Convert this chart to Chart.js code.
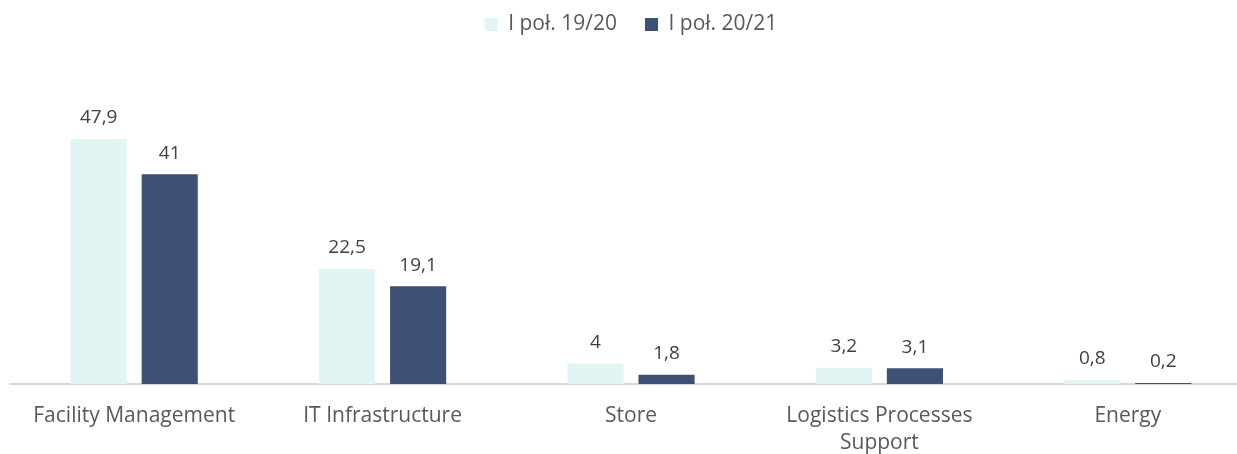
<!DOCTYPE html>
<html>
<head>
<meta charset="utf-8">
<script src="https://cdn.jsdelivr.net/npm/chart.js@4"></script>
<style>
  html, body { margin: 0; padding: 0; background: #fff; overflow: hidden; }
  #wrap { width: 1262px; height: 454px; }
</style>
</head>
<body>
<div id="wrap"><canvas id="myChart"></canvas></div>
<script>
// categories and values
const categories = [
    'Facility Management',
    'IT Infrastructure',
    'Store',
    ['Logistics Processes', 'Support'],
    'Energy'
];
const seriesNames = ['I poł. 19/20', 'I poł. 20/21'];
const values1920 = [47.9, 22.5, 4, 3.2, 0.8];
const values2021 = [41, 19.1, 1.8, 3.1, 0.2];

const ctx = document.getElementById('myChart').getContext('2d');

// draws the value above every bar, polish decimal comma
const valueLabels = {
    id: 'valueLabels',
    afterDatasetsDraw(chart) {
        const c = chart.ctx;
        c.save();
        c.font = '19px "Open Sans"';
        c.fillStyle = '#404040';
        c.textAlign = 'center';
        c.textBaseline = 'middle';
        chart.data.datasets.forEach((ds, i) => {
            chart.getDatasetMeta(i).data.forEach((bar, j) => {
                const txt = String(ds.data[j]).replace('.', ',');
                c.fillText(txt, bar.x, bar.y - 21);
            });
        });
        c.restore();
    }
};

// leaves some empty room under the legend
const legendGap = {
    id: 'legendGap',
    beforeInit(chart) {
        const fit = chart.legend.fit;
        chart.legend.fit = function () {
            fit.bind(chart.legend)();
            this.height += 32;
        };
    }
};

new Chart(ctx, {
    type: 'bar',
    data: {
        labels: categories,
        datasets: [
            {
                label: seriesNames[0],
                data: values1920,
                backgroundColor: '#e2f5f5',
                categoryPercentage: 0.572,
                barPercentage: 0.79
            },
            {
                label: seriesNames[1],
                data: values2021,
                backgroundColor: '#3c5174',
                categoryPercentage: 0.572,
                barPercentage: 0.79
            }
        ]
    },
    options: {
        responsive: true,
        maintainAspectRatio: false,
        animation: false,
        layout: {
            padding: { left: 10, right: 10, top: -14, bottom: -22 }
        },
        plugins: {
            legend: {
                position: 'top',
                labels: {
                    boxWidth: 13,
                    boxHeight: 13,
                    color: '#595959',
                    font: { family: 'Open Sans', size: 21 },
                    padding: 28
                }
            },
            tooltip: { enabled: false }
        },
        scales: {
            x: {
                grid: { display: false, drawTicks: false },
                border: { color: '#d9d9d9', width: 2 },
                ticks: {
                    color: '#595959',
                    font: { family: 'Open Sans', size: 21, lineHeight: '27px' },
                    padding: 19,
                    maxRotation: 0,
                    autoSkip: false
                }
            },
            y: {
                display: false,
                min: 0,
                max: 60
            }
        }
    },
    plugins: [valueLabels, legendGap]
});
</script>
</body>
</html>
